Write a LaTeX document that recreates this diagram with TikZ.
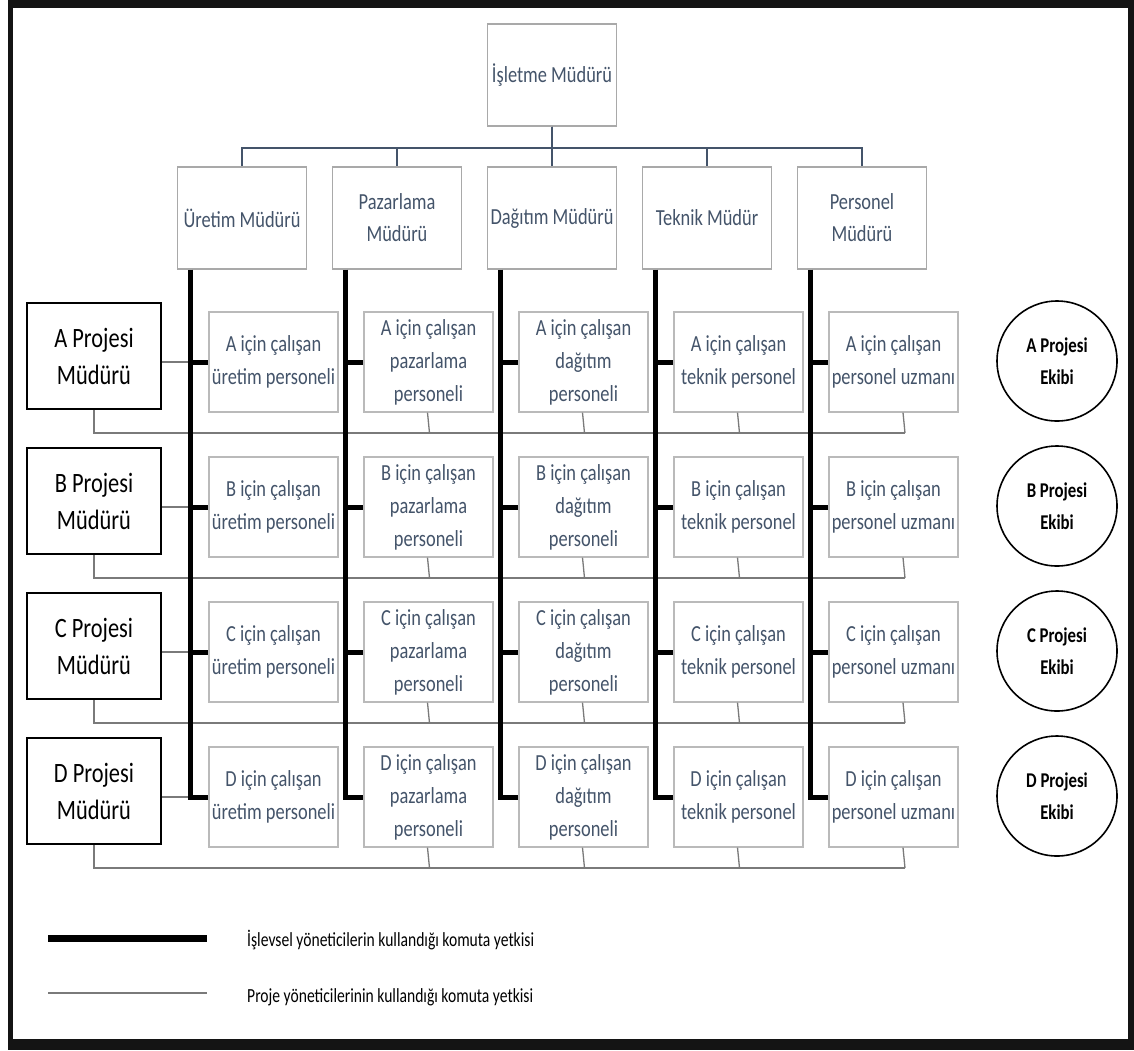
\documentclass[tikz,border=0pt]{standalone}
\usepackage{fontspec}
\setmainfont{Carlito}
\newfontfamily\narrowfont{Carlito}[FakeStretch=0.8]
\newfontfamily\legendfont{Carlito}[FakeStretch=0.78]
\usetikzlibrary{calc}
\definecolor{slate}{HTML}{44546A}
\definecolor{boxgray}{HTML}{A9A9A9}
\definecolor{projgray}{HTML}{7A7A7A}
\begin{document}
\begin{tikzpicture}[x=1pt,y=-1pt,
  mgrbox/.style={draw=boxgray, line width=1.2pt, fill=white, minimum width=129pt,
    minimum height=102pt, inner sep=0pt, align=center, text=slate,
    font=\narrowfont\fontsize{23}{32}\selectfont},
  staffbox/.style={mgrbox, draw=boxgray!80, minimum height=100pt,
    font=\narrowfont\fontsize{23}{33}\selectfont},
  projbox/.style={draw=black, line width=2pt, fill=white, minimum width=134pt,
    minimum height=106pt, inner sep=0pt, align=center, text=black,
    font=\narrowfont\fontsize{28}{37}\selectfont},
  teambox/.style={circle, draw=black, line width=1.6pt, minimum size=120pt,
    inner sep=0pt, align=center, text=black,
    font=\narrowfont\bfseries\fontsize{21}{32}\selectfont},
  orgline/.style={draw=slate, line width=2pt},
  funcline/.style={draw=black, line width=5pt, line join=miter},
  projline/.style={draw=projgray, line width=1.3pt},
  legendtext/.style={anchor=base west, inner sep=0pt, text=black,
    font=\legendfont\fontsize{20}{24}\selectfont}]

% page and frame
\useasboundingbox (0,0) rectangle (1134,1050);
\fill[white] (0,0) rectangle (1134,1050);
\fill[black!92] (8,0) rectangle (1134,1050);
\fill[white] (13,8) rectangle (1128,1039);

% general manager and functional managers
\node[mgrbox] (tm) at (552,75) {İşletme Müdürü};
\node[mgrbox] (m1) at (242,218) {Üretim Müdürü};
\node[mgrbox] (m2) at (397,218) {Pazarlama\\Müdürü};
\node[mgrbox] (m3) at (552,218) {Dağıtım Müdürü};
\node[mgrbox] (m4) at (707,218) {Teknik Müdür};
\node[mgrbox] (m5) at (862,218) {Personel\\Müdürü};

\foreach \k in {1,...,5}
  \draw[orgline] (tm.south) -- ++(0,21) -| (m\k.north);

% project managers, staff and project teams
\foreach \r/\L in {0/A,1/B,2/C,3/D}{
  \node[projbox] (p\r) at (94,{356+145*\r}) {\L{} Projesi\\Müdürü};
  \node[staffbox] (s-\r-1) at (273.5,{362+145*\r}) {\L{} için çalışan\\üretim personeli};
  \node[staffbox] (s-\r-2) at (428.5,{362+145*\r}) {\L{} için çalışan\\pazarlama\\personeli};
  \node[staffbox] (s-\r-3) at (583.5,{362+145*\r}) {\L{} için çalışan\\dağıtım\\personeli};
  \node[staffbox] (s-\r-4) at (738.5,{362+145*\r}) {\L{} için çalışan\\teknik personel};
  \node[staffbox] (s-\r-5) at (893.5,{362+145*\r}) {\L{} için çalışan\\personel uzmanı};
  \node[teambox] (c\r) at (1057,{361+145*\r}) {\L{} Projesi\\Ekibi};
  \coordinate (e\r) at (905,{433+145*\r});
}

% project authority lines
\foreach \r in {0,...,3}{
  \draw[projline] (p\r.south) |- (e\r);
  \foreach \k in {2,3,4}
    \draw[projline] ($(s-\r-\k.south)+(-1,0)$) -- ($(s-\r-\k.south |- e\r)+(1,0)$);
  \draw[projline] ($(s-\r-5.south)+(9.5,0)$) -- (e\r);
}

% functional authority lines
\foreach \k in {1,...,5}{
  \coordinate (v\k) at ($(m\k.south west)+(13.5,0)$);
}
\foreach \r in {0,...,3}
  \draw[projline] (p\r.east |- s-\r-1.west) -- (v1 |- s-\r-1.west);
\foreach \k in {1,...,5}{
  \draw[funcline] (v\k) |- (s-3-\k.west);
  \foreach \r in {0,1,2}
    \draw[funcline] (v\k |- s-\r-\k.west) -- (s-\r-\k.west);
}

% legend
\coordinate (la1) at (48,938);
\coordinate (lb1) at (207,938);
\coordinate (la2) at (48,993);
\coordinate (lb2) at (207,993);
\draw[black, line width=7pt] (la1) -- (lb1);
\draw[projline] (la2) -- (lb2);
\node[legendtext] (lt1) at (247,946) {İşlevsel yöneticilerin kullandığı komuta yetkisi};
\node[legendtext] (lt2) at (247,1002) {Proje yöneticilerinin kullandığı komuta yetkisi};
\end{tikzpicture}
\end{document}
